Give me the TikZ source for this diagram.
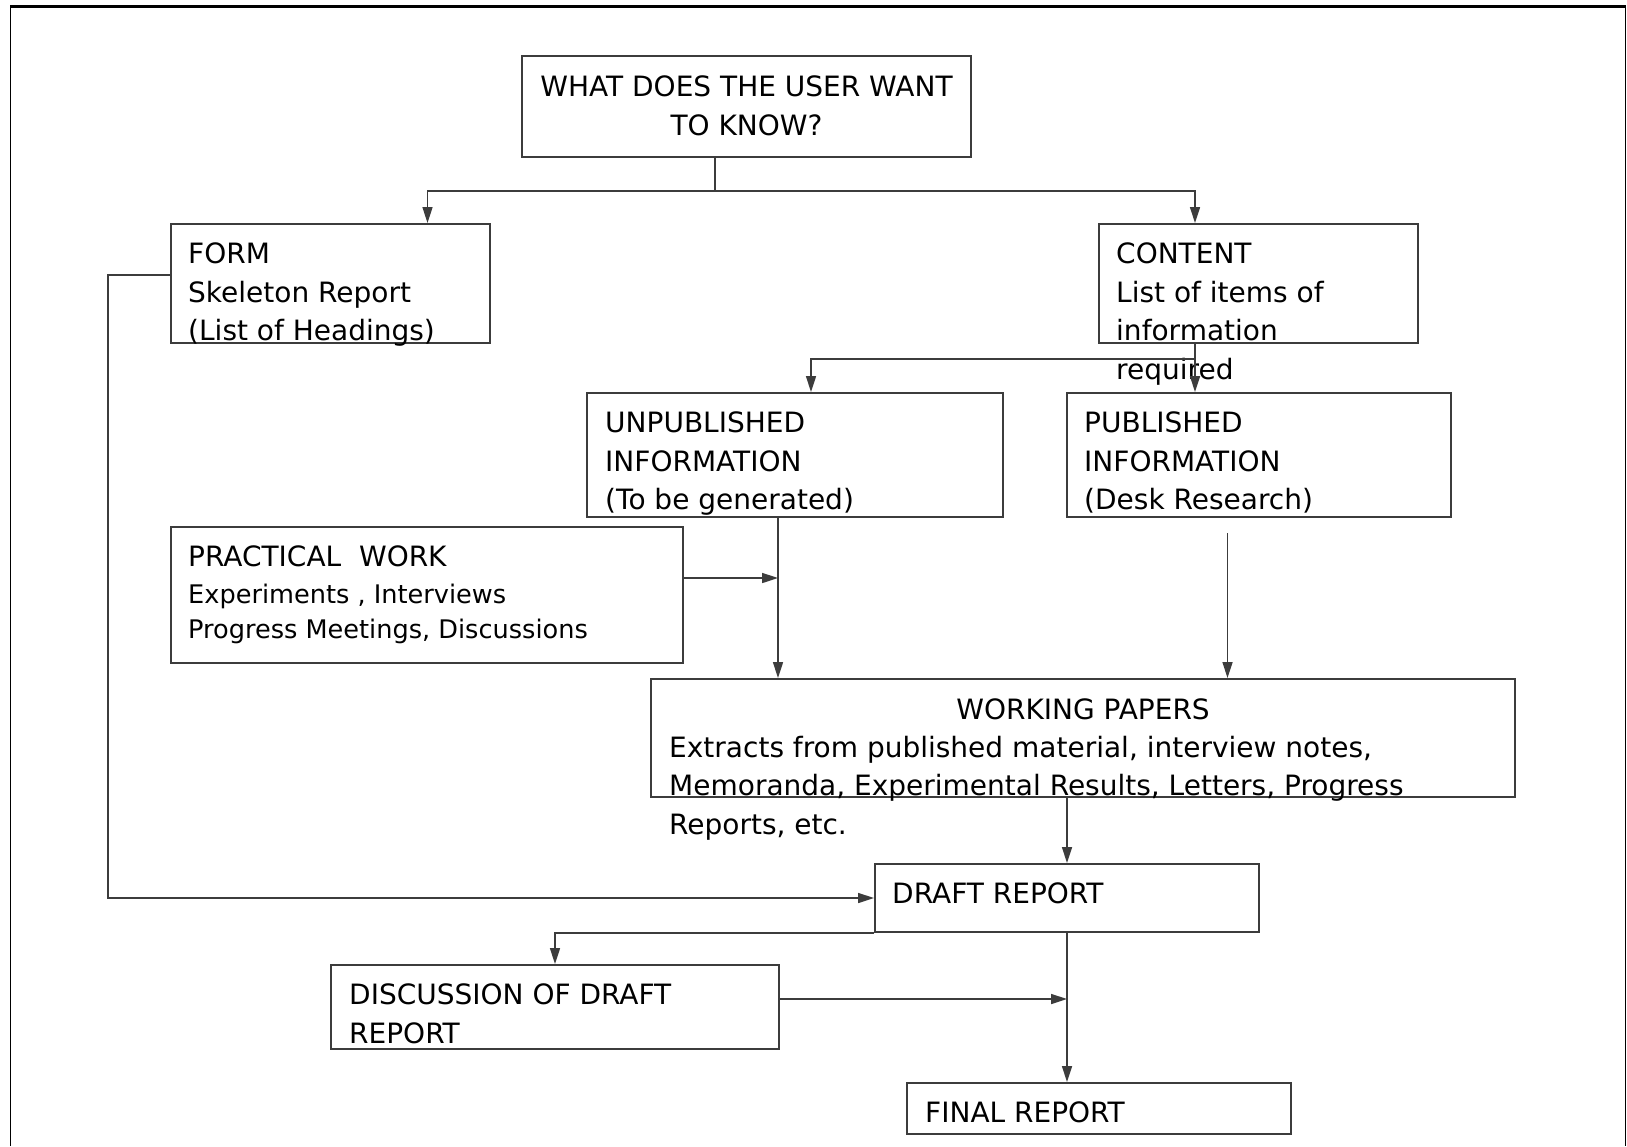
\documentclass[tikz,border=0pt]{standalone}
\usepackage{fontspec}
\setmainfont{DejaVu Sans}
\usetikzlibrary{arrows.meta}
\definecolor{linegray}{HTML}{3C3C3C}

\begin{document}
\begin{tikzpicture}[x=1pt, y=-1pt,
    box/.style={draw=linegray, line width=2pt, inner sep=0pt},
    txt/.style={inner sep=0pt, anchor=north west, align=left, font=\fontsize{28}{38.5}\selectfont},
    smalltxt/.style={txt, font=\fontsize{25.6}{34.5}\selectfont},
    link/.style={draw=linegray, line width=1.6pt},
    arr/.style={link, -{Triangle[length=16pt, width=10pt]}}]
  \useasboundingbox (0,0) rectangle (1627,1146);
  \draw[line width=1.5pt] (10.5,1146) -- (10.5,6) -- (1625.5,6) -- (1625.5,1146);
  \draw[line width=3pt] (10,6) -- (1626,6);

  \node[box, minimum width=449, minimum height=101] (want) at (746.5,106.5) {};
  \node[box, minimum width=319, minimum height=119] (form) at (330.5,283.5) {};
  \node[box, minimum width=319, minimum height=119] (content) at (1258.5,283.5) {};
  \node[box, minimum width=416, minimum height=124] (unpub) at (795,455) {};
  \node[box, minimum width=384, minimum height=124] (pub) at (1259,455) {};
  \node[box, minimum width=512, minimum height=136] (practical) at (427,595) {};
  \node[box, minimum width=864, minimum height=118] (working) at (1083,738) {};
  \node[box, minimum width=384, minimum height=68] (draft) at (1067,898) {};
  \node[box, minimum width=448, minimum height=84] (discuss) at (555,1007) {};
  \node[box, minimum width=384, minimum height=51] (final) at (1099,1108.5) {};

  \node[txt, anchor=north, align=center] (wantlbl) at (746.5,76) {WHAT DOES THE USER WANT\\TO KNOW?};
  \node[txt] (formlbl) at (188,243) {FORM\\Skeleton Report\\(List of Headings)};
  \node[txt] (contentlbl) at (1116,243) {CONTENT\\List of items of\\information\\required};
  \node[txt] (unpublbl) at (605,412) {UNPUBLISHED\\INFORMATION\\(To be generated)};
  \node[txt] (publbl) at (1084,412) {PUBLISHED\\INFORMATION\\(Desk Research)};
  \node[txt] (praclbl) at (188,546) {PRACTICAL\ \ WORK};
  \node[smalltxt] (pracitems) at (188,584) {Experiments , Interviews\\Progress Meetings, Discussions};
  \node[txt, anchor=north] (worklbl) at (1083,698.5) {WORKING PAPERS};
  \node[txt] (workitems) at (669,736) {Extracts from published material, interview notes,\\Memoranda, Experimental Results, Letters, Progress\\Reports, etc.};
  \node[txt] (draftlbl) at (892,883) {DRAFT REPORT};
  \node[txt] (discusslbl) at (349,984) {DISCUSSION OF DRAFT\\REPORT};
  \node[txt] (finallbl) at (925,1102) {FINAL REPORT};

  \coordinate (split) at (715,191);
  \draw[link] ([xshift=-31.5pt]want.south) -- (split);
  \draw[arr] (split) -| ([xshift=97pt]form.north);
  \draw[arr] (split) -| ([xshift=-63.5pt]content.north);
  \draw[arr] ([xshift=-63.5pt]content.south) -- ([xshift=-64pt]pub.north);
  \coordinate (branch) at (1195,359);
  \draw[arr] (branch) -| ([xshift=16pt]unpub.north);
  \draw[arr] ([xshift=-17pt]unpub.south) -- ([xshift=-305pt]working.north);
  \coordinate (pracjoin) at (778,578);
  \draw[arr] ([yshift=17pt]practical.east) -- (pracjoin);
  \draw[arr] ([xshift=-31.5pt,yshift=-15pt]pub.south) -- ([xshift=144.5pt]working.north);
  \draw[arr] ([xshift=-16pt]working.south) -- (draft.north);
  \coordinate (leftrun) at (108,898);
  \draw[arr] ([yshift=8.5pt]form.west) -| (leftrun) -- (draft.west);
  \draw[arr] (draft.south west) -| (discuss.north);
  \draw[arr] (draft.south) -- ([xshift=-32pt]final.north);
  \coordinate (discjoin) at (1067,999);
  \draw[arr] ([yshift=8pt]discuss.east) -- (discjoin);
\end{tikzpicture}
\end{document}
